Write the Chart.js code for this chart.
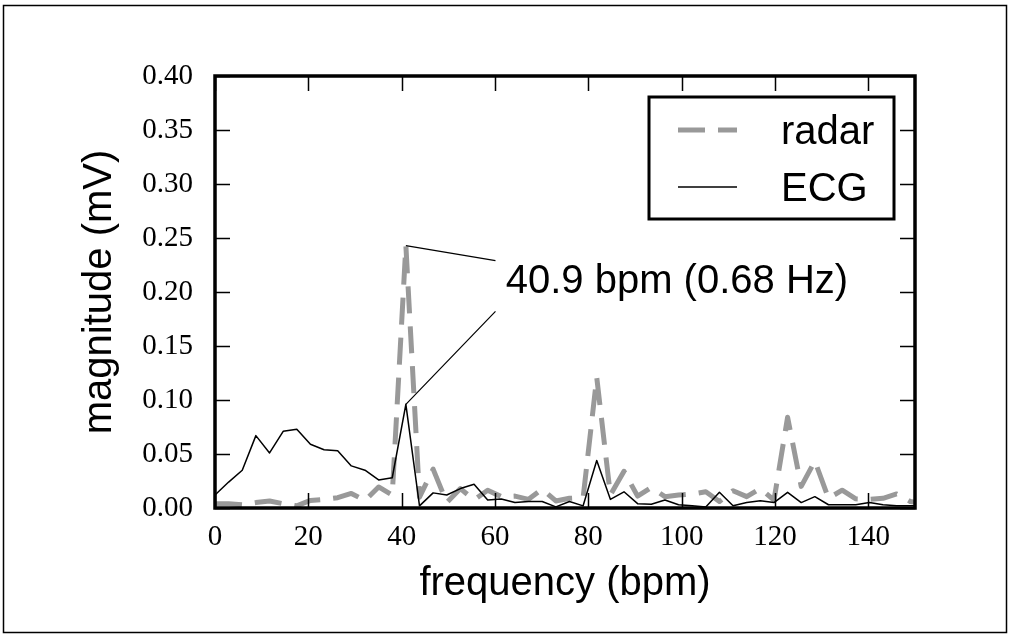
<!DOCTYPE html>
<html>
<head>
<meta charset="utf-8">
<title>radar vs ECG spectrum</title>
<script src="https://cdn.jsdelivr.net/npm/chart.js@4.4.0/dist/chart.umd.min.js"></script>
<style>
  html, body { margin: 0; padding: 0; background: #fff; }
</style>
</head>
<body>
<canvas id="chart" width="1010" height="637"></canvas>
<script>
// frequency bins in bpm (one bin every 40.9 / 14 bpm)
const FREQUENCY_BPM = [
  0, 2.92, 5.84, 8.76, 11.69, 14.61, 17.53, 20.45, 23.37, 26.29,
  29.21, 32.14, 35.06, 37.98, 40.9, 43.82, 46.74, 49.66, 52.59, 55.51,
  58.43, 61.35, 64.27, 67.19, 70.11, 73.04, 75.96, 78.88, 81.8, 84.72,
  87.64, 90.56, 93.49, 96.41, 99.33, 102.25, 105.17, 108.09, 111.01, 113.94,
  116.86, 119.78, 122.7, 125.62, 128.54, 131.46, 134.39, 137.31, 140.23, 143.15,
  146.07, 148.99, 151.91
];
// magnitude (mV) of the radar spectrum
const RADAR_MV = [
  0.004, 0.004, 0.003, 0.005, 0.0065, 0.004, 0.002, 0.007, 0.008, 0.0095,
  0.0135, 0.007, 0.0195, 0.012, 0.243, 0.01, 0.036, 0.005, 0.018, 0.0075,
  0.0165, 0.0105, 0.011, 0.008, 0.0175, 0.0065, 0.009, 0.0095, 0.121, 0.012,
  0.034, 0.011, 0.019, 0.0105, 0.012, 0.013, 0.015, 0.006, 0.016, 0.0105,
  0.018, 0.0072, 0.084, 0.02, 0.0435, 0.009, 0.0165, 0.0085, 0.008, 0.009,
  0.013, 0.006, 0.004
];
// magnitude (mV) of the ECG spectrum
const ECG_MV = [
  0.012, 0.024, 0.035, 0.067, 0.051, 0.071, 0.073, 0.059, 0.054, 0.053,
  0.039, 0.035, 0.026, 0.028, 0.096, 0.002, 0.014, 0.012, 0.018, 0.022,
  0.0074, 0.0083, 0.005, 0.006, 0.006, 0.001, 0.006, 0.002, 0.044, 0.008,
  0.015, 0.004, 0.0034, 0.0074, 0.003, 0.002, 0.001, 0.0145, 0.002, 0.005,
  0.0068, 0.005, 0.0145, 0.005, 0.0105, 0.003, 0.003, 0.003, 0.005, 0.003,
  0.002, 0.002, 0.002
];
const X_TICKS = [0, 20, 40, 60, 80, 100, 120, 140];
const Y_TICKS = [0, 0.05, 0.1, 0.15, 0.2, 0.25, 0.3, 0.35, 0.4];

// annotation of the heart rate peak
const PEAK_BPM = 40.9;
const PEAK_TEXT = '40.9 bpm (0.68 Hz)';
const PEAK_TEXT_AT = { x: 62.3, y: 0.199 };           /** text baseline start */
const LEADER_ENDS = [{ x: 60.1, y: 0.229 }, { x: 60.1, y: 0.182 }];

const SANS = '"Liberation Sans", Arial, sans-serif';
const SERIF = '"Liberation Serif", "Times New Roman", serif';
const TICK_FONT = { family: SERIF, size: 29 };
const TITLE_FONT = { family: SANS, size: 40 };

/**
 * Draws what matplotlib draws around the data: figure border, axes frame,
 * inward ticks, the peak annotation and the framed legend
 */
const figurePlugin = {
  id: 'figure',
  beforeDraw(chart) {
    const ctx = chart.ctx;
    ctx.save();
    ctx.fillStyle = '#fff';
    ctx.fillRect(0, 0, chart.width, chart.height);
    ctx.strokeStyle = '#000';
    ctx.lineWidth = 1.5;
    ctx.strokeRect(3.5, 5.5, chart.width - 7, chart.height - 10);
    ctx.restore();
  },
  afterDatasetsDraw(chart) {
    const { ctx, chartArea: a, scales: { x, y } } = chart;
    ctx.save();
    ctx.strokeStyle = '#000';

    // ticks pointing into the plot, on all four sides
    ctx.lineWidth = 1.5;
    ctx.beginPath();
    X_TICKS.forEach(v => {
      const px = Math.round(x.getPixelForValue(v)) + 0.5;
      ctx.moveTo(px, a.bottom); ctx.lineTo(px, a.bottom - 15);
      ctx.moveTo(px, a.top); ctx.lineTo(px, a.top + 15);
    });
    Y_TICKS.forEach(v => {
      const py = Math.round(y.getPixelForValue(v)) + 0.5;
      ctx.moveTo(a.left, py); ctx.lineTo(a.left + 15, py);
      ctx.moveTo(a.right, py); ctx.lineTo(a.right - 15, py);
    });
    ctx.stroke();

    // axes frame
    ctx.lineWidth = 3.5;
    ctx.strokeRect(a.left, a.top, a.width, a.height);

    // peak annotation: two leader lines and the text
    const i = FREQUENCY_BPM.indexOf(PEAK_BPM);
    const peaks = [RADAR_MV[i], ECG_MV[i]];
    ctx.lineWidth = 1.2;
    ctx.beginPath();
    peaks.forEach((v, k) => {
      ctx.moveTo(x.getPixelForValue(LEADER_ENDS[k].x), y.getPixelForValue(LEADER_ENDS[k].y));
      ctx.lineTo(x.getPixelForValue(PEAK_BPM), y.getPixelForValue(v));
    });
    ctx.stroke();
    ctx.fillStyle = '#000';
    ctx.font = '40px ' + SANS;
    ctx.textAlign = 'left';
    ctx.textBaseline = 'alphabetic';
    ctx.fillText(PEAK_TEXT, x.getPixelForValue(PEAK_TEXT_AT.x), y.getPixelForValue(PEAK_TEXT_AT.y));

    // legend in the upper right corner
    const box = { left: a.right - 266, top: a.top + 21, width: 245, height: 122 };
    ctx.fillStyle = '#fff';
    ctx.fillRect(box.left, box.top, box.width, box.height);
    ctx.lineWidth = 3;
    ctx.strokeRect(box.left, box.top, box.width, box.height);
    chart.data.datasets.forEach((ds, k) => {
      const rowY = box.top + 33 + k * 57;
      ctx.strokeStyle = ds.borderColor;
      ctx.lineWidth = ds.borderWidth;
      ctx.setLineDash(ds.borderDash || []);
      ctx.beginPath();
      ctx.moveTo(box.left + 29, rowY);
      ctx.lineTo(box.left + 88, rowY);
      ctx.stroke();
      ctx.setLineDash([]);
      ctx.fillStyle = '#000';
      ctx.fillText(ds.label, box.left + 132, rowY + 14);
    });
    ctx.restore();
  }
};

function toPoints(values) {
  return FREQUENCY_BPM.map((f, i) => ({ x: f, y: values[i] }));
}

new Chart(document.getElementById('chart'), {
  type: 'line',
  data: {
    datasets: [{
      label: 'radar',
      data: toPoints(RADAR_MV),
      borderColor: '#999999',
      borderWidth: 5,
      borderDash: [27, 13],
      order: 2
    }, {
      label: 'ECG',
      data: toPoints(ECG_MV),
      borderColor: '#000000',
      borderWidth: 1.5,
      order: 1
    }]
  },
  options: {
    responsive: false,
    animation: false,
    devicePixelRatio: 1,
    layout: { padding: { left: 0, right: 95, top: 76, bottom: 0 } },
    elements: {
      point: { radius: 0 },
      line: { tension: 0, borderCapStyle: 'butt', borderJoinStyle: 'round' }
    },
    plugins: { legend: { display: false }, tooltip: { enabled: false } },
    scales: {
      x: {
        type: 'linear',
        min: 0,
        max: 150,
        afterBuildTicks: s => { s.ticks = X_TICKS.map(v => ({ value: v })); },
        afterFit: s => { s.height = 129; },
        grid: { display: false },
        border: { display: false },
        ticks: { font: TICK_FONT, color: '#000', padding: 4, maxRotation: 0, callback: v => String(v) },
        title: { display: true, text: 'frequency (bpm)', font: TITLE_FONT, color: '#000', padding: { top: 0, bottom: 29 } }
      },
      y: {
        type: 'linear',
        min: 0,
        max: 0.4,
        afterBuildTicks: s => { s.ticks = Y_TICKS.map(v => ({ value: v })); },
        afterFit: s => { s.width = 215; },
        grid: { display: false },
        border: { display: false },
        ticks: { font: TICK_FONT, color: '#000', padding: 14, callback: v => v.toFixed(2) },
        title: { display: true, text: 'magnitude (mV)', font: TITLE_FONT, color: '#000', padding: { top: 76, bottom: 0 } }
      }
    }
  },
  plugins: [figurePlugin]
});
</script>
</body>
</html>
